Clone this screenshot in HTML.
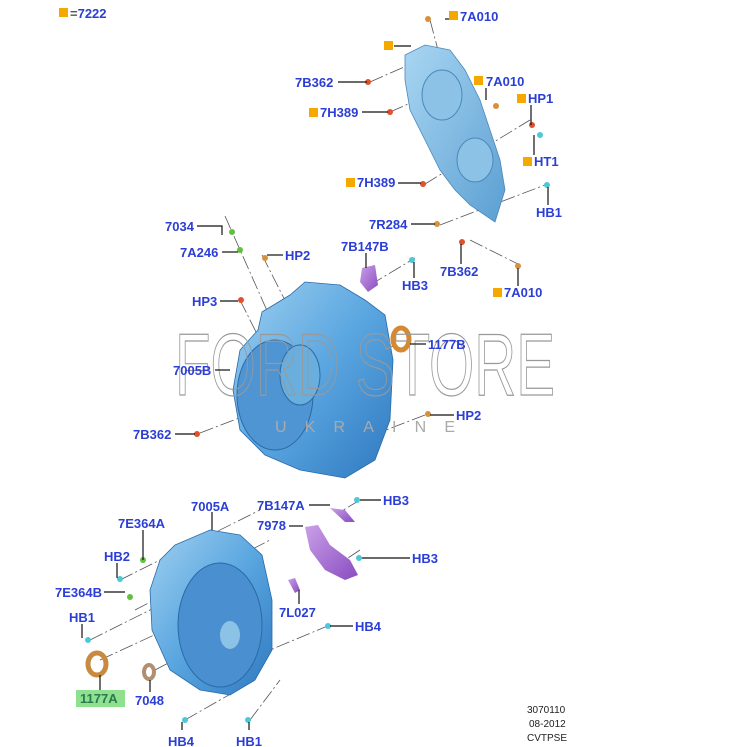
<!DOCTYPE html>
<html><head><meta charset="utf-8"><style>
html,body{margin:0;padding:0;background:#fff;}
svg{display:block}
.l{font-family:"Liberation Sans",sans-serif;font-weight:bold;font-size:13px;fill:#2b3ed6;}
.s{font-family:"Liberation Sans",sans-serif;font-size:10px;fill:#222;}
.ln{stroke:#111;stroke-width:1.2;fill:none}
.ax{stroke:#555;stroke-width:0.8;stroke-dasharray:14 3 2 3;fill:none}
</style></head><body>
<svg width="742" height="747" viewBox="0 0 742 747" xmlns="http://www.w3.org/2000/svg">
<defs>
<linearGradient id="b" x1="0" y1="0" x2="1" y2="1"><stop offset="0" stop-color="#9fd0f0"/><stop offset="0.5" stop-color="#5aa6e0"/><stop offset="1" stop-color="#2f78c0"/></linearGradient>
<linearGradient id="c" x1="0" y1="0" x2="1" y2="1"><stop offset="0" stop-color="#a9d6f2"/><stop offset="1" stop-color="#5b9fd2"/></linearGradient>
<linearGradient id="p" x1="0" y1="0" x2="1" y2="1"><stop offset="0" stop-color="#c9a0e8"/><stop offset="1" stop-color="#8a4cc0"/></linearGradient>
</defs>
<!-- axis lines -->
<g class="ax">
<path d="M430 20 L470 170"/><path d="M370 82 L420 60"/><path d="M390 112 L440 90"/>
<path d="M425 184 L530 120"/><path d="M440 225 L545 185"/><path d="M470 240 L520 265"/>
<path d="M225 216 L320 430"/><path d="M262 255 L300 330"/><path d="M240 300 L300 420"/>
<path d="M370 285 L415 258"/><path d="M395 345 L330 380"/><path d="M200 433 L260 410"/><path d="M425 415 L360 440"/>
<path d="M120 580 L260 510"/><path d="M135 610 L270 540"/><path d="M90 640 L250 560"/><path d="M100 660 L230 600"/>
<path d="M155 670 L250 620"/><path d="M185 720 L255 680"/><path d="M250 720 L280 680"/><path d="M330 625 L270 650"/>
<path d="M360 550 L330 570"/><path d="M360 500 L340 512"/>
</g>
<!-- top cover -->
<path d="M405 55 L425 45 L450 50 L465 70 L480 100 L490 130 L500 160 L505 190 L495 222 L470 205 L455 190 L440 170 L425 140 L410 110 L405 80 Z" fill="url(#c)" stroke="#4a88bb" stroke-width="0.8"/>
<ellipse cx="442" cy="95" rx="20" ry="25" fill="#8cc2e6" stroke="#4a88bb"/>
<ellipse cx="475" cy="160" rx="18" ry="22" fill="#8cc2e6" stroke="#4a88bb"/>
<!-- middle housing -->
<path d="M262 312 L290 295 L305 282 L340 285 L365 300 L385 315 L393 360 L390 420 L375 460 L345 478 L300 470 L265 455 L240 430 L233 390 L240 350 L258 330 Z" fill="url(#b)" stroke="#2a6aa8" stroke-width="0.8"/>
<ellipse cx="275" cy="395" rx="38" ry="55" fill="#4f95d4" stroke="#2a6aa8"/>
<ellipse cx="300" cy="375" rx="20" ry="30" fill="#6aaede" stroke="#2a6aa8"/>
<!-- bottom housing -->
<path d="M175 545 L210 530 L240 535 L262 555 L272 600 L272 650 L255 680 L230 695 L200 690 L170 670 L152 630 L150 590 L160 560 Z" fill="url(#b)" stroke="#2a6aa8" stroke-width="0.8"/>
<ellipse cx="220" cy="625" rx="42" ry="62" fill="#4a90d0" stroke="#2a6aa8"/>
<ellipse cx="230" cy="635" rx="10" ry="14" fill="#8cc2e6"/>
<!-- purple parts -->
<path d="M362 268 L375 265 L378 285 L368 292 L360 282 Z" fill="url(#p)"/>
<path d="M330 508 L345 510 L355 522 L345 522 Z" fill="url(#p)"/>
<path d="M305 527 L318 525 L330 545 L350 560 L358 575 L345 580 L325 570 L310 550 Z" fill="url(#p)"/>
<path d="M288 580 L295 578 L300 590 L295 593 Z" fill="url(#p)"/>
<!-- rings -->
<ellipse cx="401" cy="339" rx="8" ry="11" fill="none" stroke="#d48a30" stroke-width="5"/>
<ellipse cx="97" cy="664" rx="9" ry="11" fill="none" stroke="#c88a40" stroke-width="5"/>
<ellipse cx="149" cy="672" rx="5" ry="7" fill="none" stroke="#b09070" stroke-width="4"/>
<!-- small fasteners -->
<g fill="#e0502a"><circle cx="368" cy="82" r="3"/><circle cx="390" cy="112" r="3"/><circle cx="423" cy="184" r="3"/><circle cx="462" cy="242" r="3"/><circle cx="532" cy="125" r="3"/><circle cx="241" cy="300" r="3"/><circle cx="197" cy="434" r="3"/></g>
<g fill="#d8903a"><circle cx="428" cy="19" r="3"/><circle cx="496" cy="106" r="3"/><circle cx="518" cy="266" r="3"/><circle cx="265" cy="258" r="3"/><circle cx="428" cy="414" r="3"/><circle cx="437" cy="224" r="3"/></g>
<g fill="#4cc8d8"><circle cx="540" cy="135" r="3"/><circle cx="547" cy="185" r="3"/><circle cx="412" cy="260" r="3"/><circle cx="120" cy="579" r="3"/><circle cx="88" cy="640" r="3"/><circle cx="185" cy="720" r="3"/><circle cx="248" cy="720" r="3"/><circle cx="328" cy="626" r="3"/><circle cx="357" cy="500" r="3"/><circle cx="359" cy="558" r="3"/></g>
<g fill="#60c040"><circle cx="232" cy="232" r="3"/><circle cx="240" cy="250" r="3"/><circle cx="143" cy="560" r="3"/><circle cx="130" cy="597" r="3"/></g>
<!-- watermark -->
<text x="175" y="395" font-family="Liberation Sans,sans-serif" font-size="88" fill="none" stroke="#999" stroke-width="1.2" textLength="380" lengthAdjust="spacingAndGlyphs">FORD STORE</text>
<text x="275" y="432" font-family="Liberation Sans,sans-serif" font-size="16" fill="#aaa" textLength="180" lengthAdjust="spacing">UKRAINE</text>
<!-- leader lines -->
<g class="ln">
<path d="M445 19 H449"/><path d="M394 46 H411"/><path d="M338 82 H367"/><path d="M486 88 V100"/><path d="M531 105 V125"/>
<path d="M362 112 H388"/><path d="M534 155 V135"/><path d="M398 183 H421"/><path d="M548 205 V187"/><path d="M411 224 H435"/>
<path d="M197 226 H222 V235"/><path d="M222 252 H238"/><path d="M283 255 H267"/><path d="M366 253 V268"/><path d="M461 244 V264"/><path d="M414 278 V262"/>
<path d="M518 286 V268"/><path d="M220 301 H238"/><path d="M410 344 H426"/><path d="M215 370 H230"/><path d="M430 415 H454"/><path d="M175 434 H195"/>
<path d="M212 512 V530"/><path d="M309 505 H330"/><path d="M360 500 H381"/><path d="M143 530 V560"/><path d="M289 526 H303"/><path d="M117 563 V578"/><path d="M362 558 H410"/>
<path d="M104 592 H125"/><path d="M299 604 V590"/><path d="M82 624 V638"/><path d="M330 626 H353"/><path d="M100 675 V690"/><path d="M150 680 V692"/><path d="M182 730 V722"/><path d="M249 730 V722"/>
</g>
<!-- squares -->
<g fill="#f5a800"><rect x="59" y="8" width="9" height="9"/><rect x="449" y="11" width="9" height="9"/><rect x="384" y="41" width="9" height="9"/><rect x="474" y="76" width="9" height="9"/><rect x="517" y="94" width="9" height="9"/><rect x="309" y="108" width="9" height="9"/><rect x="523" y="157" width="9" height="9"/><rect x="346" y="178" width="9" height="9"/><rect x="493" y="288" width="9" height="9"/></g>
<rect x="76" y="690" width="49" height="17" fill="#8fe08f"/>
<!-- labels -->
<text x="70" y="18" class="l"><tspan fill="#555">=</tspan>7222</text>
<text x="460" y="21" class="l">7A010</text>
<text x="295" y="87" class="l">7B362</text>
<text x="486" y="86" class="l">7A010</text>
<text x="528" y="103" class="l">HP1</text>
<text x="320" y="117" class="l">7H389</text>
<text x="534" y="166" class="l">HT1</text>
<text x="357" y="187" class="l">7H389</text>
<text x="536" y="217" class="l">HB1</text>
<text x="369" y="229" class="l">7R284</text>
<text x="165" y="231" class="l">7034</text>
<text x="341" y="251" class="l">7B147B</text>
<text x="180" y="257" class="l">7A246</text>
<text x="285" y="260" class="l">HP2</text>
<text x="440" y="276" class="l">7B362</text>
<text x="402" y="290" class="l">HB3</text>
<text x="504" y="297" class="l">7A010</text>
<text x="192" y="306" class="l">HP3</text>
<text x="428" y="349" class="l">1177B</text>
<text x="173" y="375" class="l">7005B</text>
<text x="456" y="420" class="l">HP2</text>
<text x="133" y="439" class="l">7B362</text>
<text x="383" y="505" class="l">HB3</text>
<text x="257" y="510" class="l">7B147A</text>
<text x="191" y="511" class="l">7005A</text>
<text x="118" y="528" class="l">7E364A</text>
<text x="257" y="530" class="l">7978</text>
<text x="104" y="561" class="l">HB2</text>
<text x="412" y="563" class="l">HB3</text>
<text x="55" y="597" class="l">7E364B</text>
<text x="279" y="617" class="l">7L027</text>
<text x="69" y="622" class="l">HB1</text>
<text x="355" y="631" class="l">HB4</text>
<text x="80" y="703" class="l" fill="#2a8a5a" style="fill:#2a7a50">1177A</text>
<text x="135" y="705" class="l">7048</text>
<text x="168" y="746" class="l">HB4</text>
<text x="236" y="746" class="l">HB1</text>
<text x="527" y="713" class="s">3070110</text>
<text x="529" y="727" class="s">08-2012</text>
<text x="527" y="741" class="s">CVTPSE</text>
</svg>
</body></html>
